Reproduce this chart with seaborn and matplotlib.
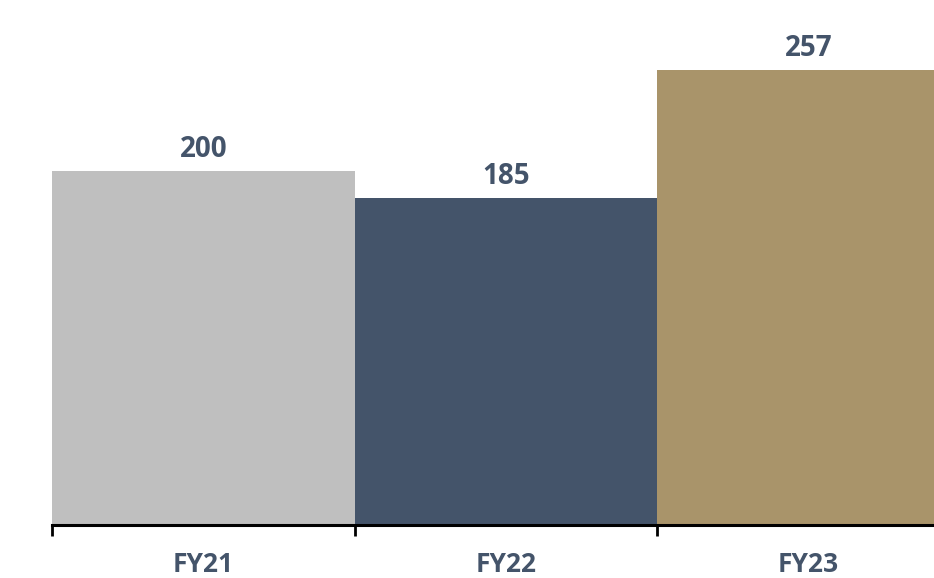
import matplotlib
matplotlib.use("Agg")
import matplotlib.pyplot as plt
import seaborn as sns
import pandas as pd

years = ["FY21", "FY22", "FY23"]
values = [200, 185, 257]
colors = ["#BFBFBF", "#44546A", "#A9946A"]
text_color = "#44546A"

sns.set_style("white")
plt.rcParams["font.family"] = ["Open Sans", "DejaVu Sans"]

df = pd.DataFrame({"year": years, "value": values})

fig = plt.figure(figsize=(9.34, 5.78), dpi=100)
ax = fig.add_axes([52 / 934, 53 / 578, 907.5 / 934, 531 / 578])

sns.barplot(data=df, x="year", y="value", hue="year", palette=colors,
            width=1.0, legend=False, ax=ax, saturation=1, linewidth=0)

for cont in ax.containers:
    ax.bar_label(cont, fmt="%d", padding=5, fontsize=20, fontweight="bold",
                 color=text_color)

ax.set_xlim(-0.5, 2.5)
ax.set_ylim(0, 300)
ax.set_xlabel("")
ax.set_ylabel("")
ax.set_yticks([])

ax.set_xticks([0, 1, 2])
ax.set_xticklabels(years, fontsize=19, fontweight="bold", color=text_color)
ax.tick_params(axis="x", which="major", length=0, pad=19)
ax.set_xticks([-0.5, 0.5, 1.5, 2.5], minor=True)
ax.tick_params(axis="x", which="minor", length=8, width=2, color="black",
               direction="out", bottom=True)

for s in ["top", "right", "left"]:
    ax.spines[s].set_visible(False)
ax.spines["bottom"].set_linewidth(2.2)
ax.spines["bottom"].set_color("black")

fig.savefig("out.png", dpi=100)
